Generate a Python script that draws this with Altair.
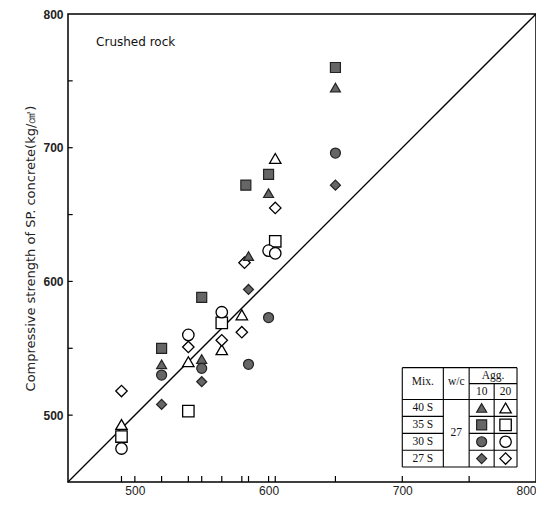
import altair as alt
import pandas as pd

# ---- data ----
# Agg. 10 (filled markers)
tri10_x = [520, 550, 585, 600, 650]
tri10_y = [538, 542, 619, 666, 745]
sq10_x = [520, 550, 583, 600, 650]
sq10_y = [550, 588, 672, 680, 760]
cir10_x = [520, 550, 585, 600, 650]
cir10_y = [530, 535, 538, 573, 696]
dia10_x = [520, 550, 585, 650]
dia10_y = [508, 525, 594, 672]
# Agg. 20 (open markers)
tri20_x = [490, 540, 565, 580, 605]
tri20_y = [493, 540, 549, 575, 692]
sq20_x = [490, 540, 565, 605]
sq20_y = [484, 503, 569, 630]
cir20_x = [490, 540, 565, 600, 605]
cir20_y = [475, 560, 577, 623, 621]
dia20_x = [490, 540, 565, 580, 582, 605]
dia20_y = [518, 551, 556, 562, 614, 655]

mixes = ["40 S", "35 S", "30 S", "27 S"]
shapes = ["triangle-up", "square", "circle", "diamond"]
x_labels = [500, 600, 700, 800]
y_labels = [500, 600, 700, 800]
x_ticks = [490, 500, 520, 540, 550, 565, 580, 585, 600, 605, 650, 700, 750]
y_ticks = [500, 550, 600, 650, 700, 750]
diag = [450, 800]

DOM = [450, 800]
FILL = "#666666"

rows = []
for mix, shp, (xs10, ys10), (xs20, ys20) in zip(
    mixes, shapes,
    [(tri10_x, tri10_y), (sq10_x, sq10_y), (cir10_x, cir10_y), (dia10_x, dia10_y)],
    [(tri20_x, tri20_y), (sq20_x, sq20_y), (cir20_x, cir20_y), (dia20_x, dia20_y)]):
    for a, b in zip(xs10, ys10):
        rows.append({"x": a, "y": b, "shape": shp, "grp": "10"})
    for a, b in zip(xs20, ys20):
        rows.append({"x": a, "y": b, "shape": shp, "grp": "20"})
pts = pd.DataFrame(rows)

xs = alt.Scale(domain=DOM, nice=False, zero=False)
ys = alt.Scale(domain=DOM, nice=False, zero=False)

x_axis = alt.Axis(values=x_labels, ticks=False, domain=False, grid=False, title=None,
                  labelFont="Liberation Sans", labelFontSize=12, labelColor="#222",
                  labelPadding=3)
y_axis = alt.Axis(values=y_labels, ticks=False, domain=False, grid=False,
                  title="Compressive strength of SP. concrete(kg/㎠)",
                  titleFont="DejaVu Sans", titleFontSize=13, titleFontWeight="normal",
                  titleColor="#222", titlePadding=5,
                  labelFont="Liberation Sans", labelFontSize=12, labelFontWeight="bold",
                  labelColor="#222", labelPadding=5)

base_x = alt.X("x:Q", scale=xs, axis=x_axis)
base_y = alt.Y("y:Q", scale=ys, axis=y_axis)

diag_df = pd.DataFrame({"x": diag, "y": diag})
diag_layer = alt.Chart(diag_df).mark_line(color="black", strokeWidth=1.3).encode(x=base_x, y=base_y)

# inward tick marks
xt = pd.DataFrame({"x": x_ticks, "y": [450] * len(x_ticks), "y2": [454.5] * len(x_ticks)})
xt_layer = alt.Chart(xt).mark_rule(color="black", strokeWidth=1.2).encode(
    x=base_x, y=base_y, y2="y2:Q")
yt = pd.DataFrame({"y": y_ticks, "x": [450] * len(y_ticks), "x2": [453.5] * len(y_ticks)})
yt_layer = alt.Chart(yt).mark_rule(color="black", strokeWidth=1.2).encode(
    y=base_y, x=base_x, x2="x2:Q")

shape_scale = alt.Scale(domain=shapes, range=shapes)
filled = alt.Chart(pts[pts["grp"] == "10"]).mark_point(
    filled=True, fill=FILL, stroke="#222", strokeWidth=1.2, size=100, opacity=1
).encode(x=base_x, y=base_y, shape=alt.Shape("shape:N", scale=shape_scale, legend=None))
opened = alt.Chart(pts[pts["grp"] == "20"]).mark_point(
    filled=False, fill="white", fillOpacity=1, stroke="black", strokeWidth=1.3, size=130, opacity=1
).encode(x=base_x, y=base_y, shape=alt.Shape("shape:N", scale=shape_scale, legend=None))

title_df = pd.DataFrame({"x": [471], "y": [779], "t": ["Crushed rock"]})
title_layer = alt.Chart(title_df).mark_text(
    align="left", baseline="middle", font="DejaVu Sans", fontSize=12, color="#111"
).encode(x=base_x, y=base_y, text="t:N")

# ---- legend table (in data coordinates) ----
TL, TW, TA, TM, TR = 700, 730.7, 750, 768.7, 785.8
TT, TAG, THB, R1, R2, R3, TB = 535.5, 523.6, 511.7, 499.1, 486.4, 473.8, 461.2
segs = [
    (TL, TR, TT, TT), (TL, TR, TB, TB), (TL, TR, THB, THB),
    (TA, TR, TAG, TAG),
    (TL, TW, R1, R1), (TL, TW, R2, R2), (TL, TW, R3, R3),
    (TA, TR, R1, R1), (TA, TR, R2, R2), (TA, TR, R3, R3),
    (TL, TL, TB, TT), (TR, TR, TB, TT), (TW, TW, TB, TT), (TA, TA, TB, TT),
    (TM, TM, TB, TAG),
]
seg_df = pd.DataFrame(segs, columns=["x", "x2", "y", "y2"])
seg_layer = alt.Chart(seg_df).mark_rule(color="black", strokeWidth=1.1).encode(
    x=base_x, x2="x2:Q", y=base_y, y2="y2:Q")

row_y = [(THB + R1) / 2, (R1 + R2) / 2, (R2 + R3) / 2, (R3 + TB) / 2]
cx_mix, cx_wc = (TL + TW) / 2, (TW + TA) / 2
cx10, cx20 = (TA + TM) / 2, (TM + TR) / 2
txt = [
    {"x": cx_mix, "y": 525.0, "t": "Mix."},
    {"x": cx_wc, "y": 525.0, "t": "w/c"},
    {"x": (TA + TR) / 2, "y": 529.3, "t": "Agg."},
    {"x": cx10, "y": 517.6, "t": "10"},
    {"x": cx20, "y": 517.6, "t": "20"},
    {"x": cx_wc, "y": (THB + TB) / 2, "t": "27"},
]
for m, yy in zip(mixes, row_y):
    txt.append({"x": cx_mix, "y": yy, "t": m})
txt_df = pd.DataFrame(txt)
txt_layer = alt.Chart(txt_df).mark_text(
    align="center", baseline="middle", font="Liberation Serif", fontSize=11.5, color="#111"
).encode(x=base_x, y=base_y, text="t:N")

leg_rows = []
for shp, yy in zip(shapes, row_y):
    leg_rows.append({"x": cx10, "y": yy, "shape": shp, "grp": "10"})
    leg_rows.append({"x": cx20, "y": yy, "shape": shp, "grp": "20"})
leg = pd.DataFrame(leg_rows)
leg_f = alt.Chart(leg[leg["grp"] == "10"]).mark_point(
    filled=True, fill=FILL, stroke="#222", strokeWidth=1.2, size=100, opacity=1
).encode(x=base_x, y=base_y, shape=alt.Shape("shape:N", scale=shape_scale, legend=None))
leg_o = alt.Chart(leg[leg["grp"] == "20"]).mark_point(
    filled=False, fill="white", fillOpacity=1, stroke="black", strokeWidth=1.3, size=130, opacity=1
).encode(x=base_x, y=base_y, shape=alt.Shape("shape:N", scale=shape_scale, legend=None))

chart = alt.layer(
    diag_layer, xt_layer, yt_layer, seg_layer, opened, filled, title_layer, txt_layer, leg_f, leg_o
).properties(
    width=468, height=468,
    background="white",
    autosize=alt.AutoSizeParams(type="none"),
    padding={"left": 60, "top": 6, "right": 0, "bottom": 15},
).configure_view(
    stroke="black", strokeWidth=1.5
)

chart.save("out.html", embed_options={"renderer": "svg", "actions": False})
